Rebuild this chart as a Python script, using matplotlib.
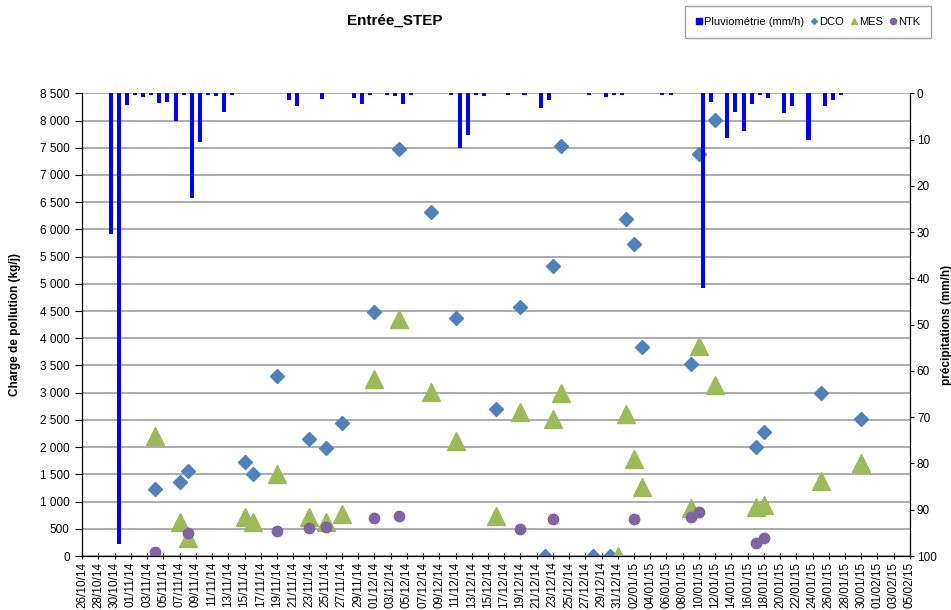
import numpy as np
import pandas as pd
import matplotlib
matplotlib.use('Agg')
import matplotlib.pyplot as plt
import matplotlib.dates as mdates
from matplotlib.lines import Line2D
from matplotlib.ticker import FuncFormatter, MultipleLocator

plt.rcParams['font.family'] = ['Liberation Sans', 'DejaVu Sans']

# Pluviometrie journaliere (mm/h)
pluie_dates = ['2014-10-29', '2014-10-30', '2014-10-31', '2014-11-01', '2014-11-02', '2014-11-03',
               '2014-11-04', '2014-11-05', '2014-11-06', '2014-11-07', '2014-11-08', '2014-11-09',
               '2014-11-10', '2014-11-11', '2014-11-12', '2014-11-13', '2014-11-20', '2014-11-21',
               '2014-11-24', '2014-11-28', '2014-11-29', '2014-11-30', '2014-12-02', '2014-12-03',
               '2014-12-04', '2014-12-05', '2014-12-10', '2014-12-11', '2014-12-12', '2014-12-13',
               '2014-12-14', '2014-12-17', '2014-12-19', '2014-12-21', '2014-12-22', '2014-12-27',
               '2014-12-29', '2014-12-30', '2014-12-31', '2015-01-05', '2015-01-06', '2015-01-10',
               '2015-01-11', '2015-01-13', '2015-01-14', '2015-01-15', '2015-01-16', '2015-01-17',
               '2015-01-18', '2015-01-20', '2015-01-21', '2015-01-23', '2015-01-25', '2015-01-26',
               '2015-01-27']
pluie = [30.4, 97.5, 2.5, 0.3, 0.7, 0.3,
         2.0, 1.8, 5.9, 0.3, 22.7, 10.6,
         0.4, 0.5, 4.0, 0.3, 1.4, 2.7,
         1.2, 1.0, 2.3, 0.3, 0.3, 0.5,
         2.3, 0.4, 0.3, 11.9, 8.9, 0.3,
         0.6, 0.3, 0.3, 3.2, 1.4, 0.3,
         0.7, 0.3, 0.3, 0.4, 0.3, 42.1,
         1.8, 9.6, 4.0, 8.1, 2.4, 0.3,
         1.0, 4.3, 2.7, 10.1, 2.7, 1.4,
         0.3]

# Charges de pollution (kg/j)
mesure_dates = ['2014-11-04', '2014-11-07', '2014-11-08', '2014-11-15', '2014-11-16', '2014-11-19',
                '2014-11-23', '2014-11-25', '2014-11-27', '2014-12-01', '2014-12-04', '2014-12-08',
                '2014-12-11', '2014-12-16', '2014-12-19', '2014-12-22', '2014-12-23', '2014-12-24',
                '2014-12-28', '2014-12-30', '2014-12-31', '2015-01-01', '2015-01-02', '2015-01-03',
                '2015-01-09', '2015-01-10', '2015-01-12', '2015-01-17', '2015-01-18', '2015-01-25',
                '2015-01-30']
nan = np.nan
dco = [1225, 1360, 1561, 1727, 1506, 3306,
       2149, 1990, 2437, 4476, 7470, 6313,
       4378, 2700, 4568, 0, 5333, 7537,
       0, 0, nan, 6185, 5731, 3845,
       3521, 7378, 8009, 2008, 2272, 3000,
       2511]
mes = [2210, 619, 325, 711, 619, 1506,
       711, 619, 771, 3251, 4348, 3018,
       2118, 741, 2639, nan, 2517, 2988,
       nan, nan, 0, 2608, 1782, 1262,
       876, 3857, 3141, 906, 937, 1383,
       1714]
ntk = [68, nan, 417, nan, nan, 459,
       520, 527, nan, 692, 735, nan,
       nan, nan, 496, nan, 680, nan,
       nan, nan, nan, nan, 680, nan,
       711, 802, nan, 245, 337, nan,
       nan]

c_pluie = '#0000FF'
c_dco = '#4F81BD'
c_mes = '#9BBB59'
c_ntk = '#8064A2'

x_pluie = pd.to_datetime(pluie_dates) + pd.Timedelta(hours=12)
x_mes = pd.to_datetime(mesure_dates)

fig = plt.figure(figsize=(9.51, 6.10), dpi=100)
ax = fig.add_axes([0.0865, 0.0885, 0.8703, 0.7585])
ax2 = ax.twinx()

# grille horizontale
ax.set_ylim(0, 8500)
ax.yaxis.set_major_locator(MultipleLocator(500))
ax.grid(axis='y', color='#a6a6a6', lw=1.3)
ax.set_axisbelow(True)

ax.plot(x_mes, dco, ls='none', marker='D', ms=7, color=c_dco, zorder=3)
ax.plot(x_mes, mes, ls='none', marker='^', ms=12.5, color=c_mes, zorder=3)
ax.plot(x_mes, ntk, ls='none', marker='o', ms=7.5, color=c_ntk, zorder=3)

ax2.bar(x_pluie, pluie, width=0.5, color=c_pluie)
ax2.set_ylim(100, 0)
ax2.yaxis.set_major_locator(MultipleLocator(10))

xt = pd.date_range('2014-10-26', '2015-02-05', freq='2D')
ax.set_xlim(xt[0], xt[-1])
ax.set_xticks(xt)
ax.xaxis.set_major_formatter(mdates.DateFormatter('%d/%m/%y'))
for lab in ax.get_xticklabels():
    lab.set_rotation(90)
ax.tick_params(axis='x', labelsize=8.5, length=4, direction='inout', pad=2)
ax.tick_params(axis='y', labelsize=8.5, length=5, direction='out', pad=4)
ax2.tick_params(axis='y', labelsize=8.5, length=3, direction='out', pad=2)
ax.yaxis.set_major_formatter(FuncFormatter(lambda v, p: f"{int(v):,}".replace(',', ' ')))

for a in (ax, ax2):
    a.spines['top'].set_visible(False)
    a.spines['left'].set_color('black')
    a.spines['right'].set_color('black')
    a.spines['bottom'].set_color('black')

ax.set_ylabel('Charge de pollution (kg/j)', fontsize=8.5, fontweight='bold', labelpad=14)
ax2.set_ylabel('précipitations (mm/h)', fontsize=8.5, fontweight='bold', labelpad=3)

fig.text(395 / 951, 1 - 21 / 610, 'Entrée_STEP', ha='center', va='center',
         fontsize=11, fontweight='bold')

handles = [
    Line2D([], [], ls='none', marker='s', ms=4.5, color=c_pluie),
    Line2D([], [], ls='none', marker='D', ms=3, color=c_dco),
    Line2D([], [], ls='none', marker='^', ms=4.5, color=c_mes),
    Line2D([], [], ls='none', marker='o', ms=4.5, color=c_ntk),
]
leg = fig.legend(handles, ['Pluviométrie (mm/h)', 'DCO', 'MES', 'NTK'],
                 loc='upper right', bbox_to_anchor=(931 / 951, 1 - 6 / 610),
                 ncol=4, fontsize=8, frameon=True, fancybox=False,
                 handlelength=0.6, handletextpad=0.15, columnspacing=0.6,
                 borderpad=1.0, borderaxespad=0)
leg.get_frame().set_edgecolor('#8c8c8c')
leg.get_frame().set_linewidth(1.0)

fig.savefig('out.png', dpi=100)
